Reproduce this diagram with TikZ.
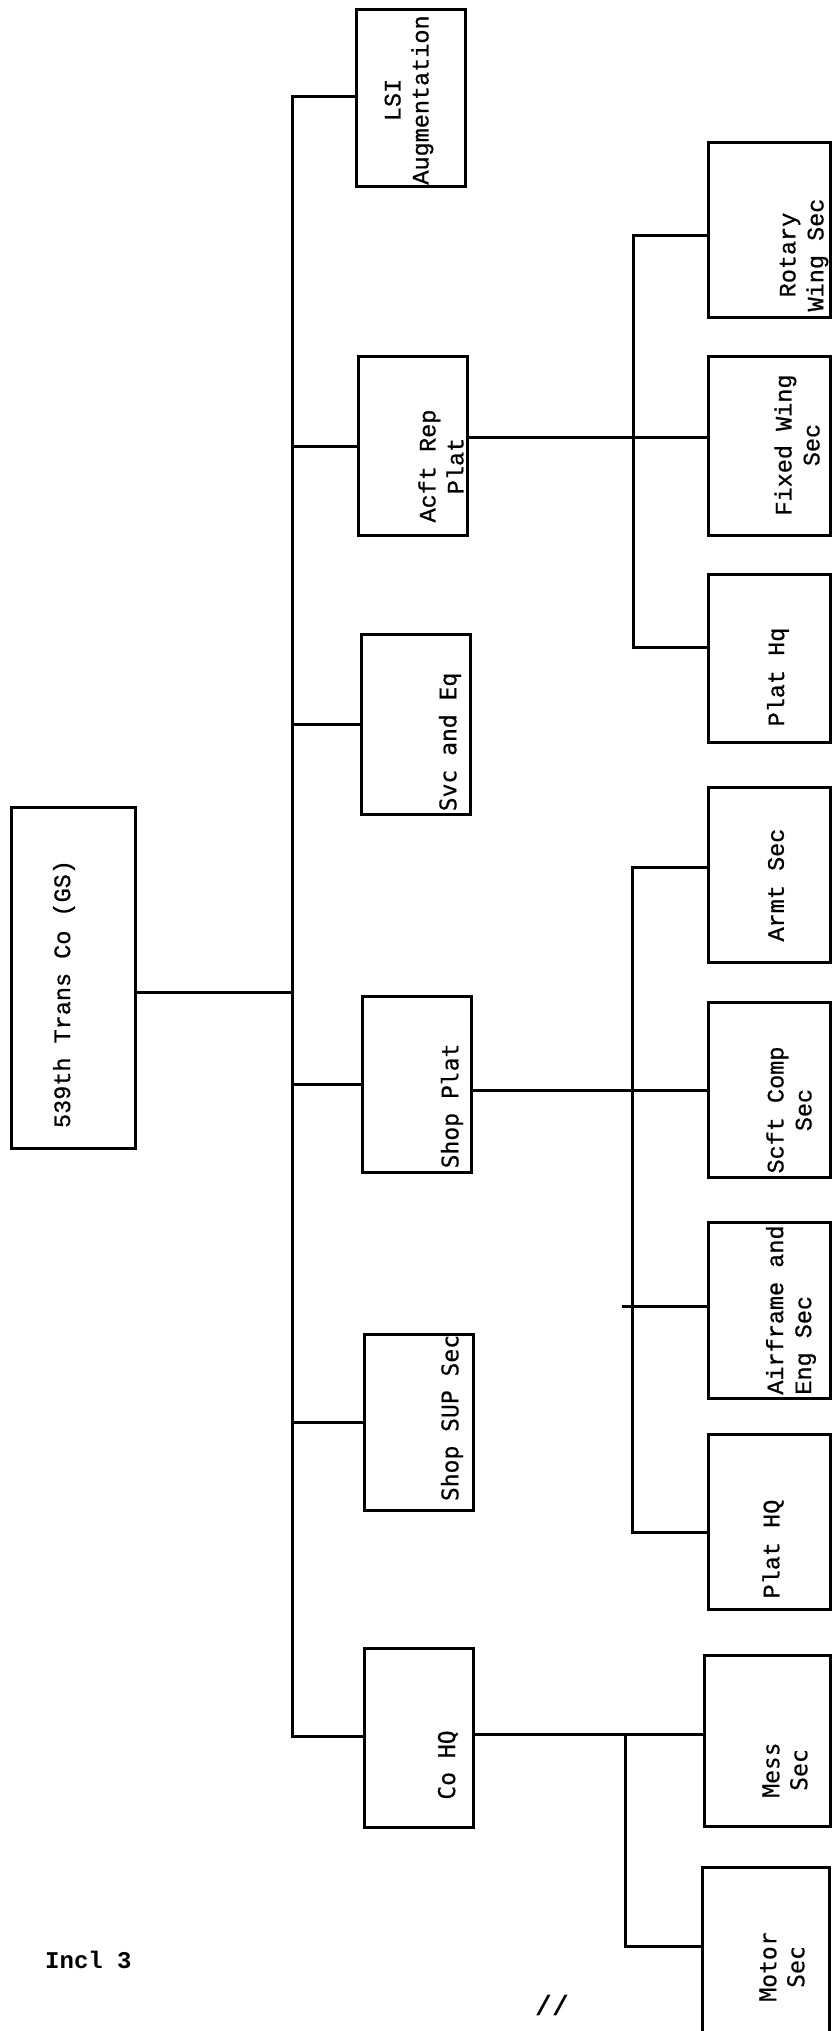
\documentclass[tikz,border=0pt]{standalone}
\usepackage{fontspec}
\setmonofont{Liberation Mono}
\newfontfamily\typewr{Liberation Mono}[FakeBold=0.8]
\newfontfamily\gothic{DejaVu Sans Mono}[FakeBold=0.4]
\newcommand\orgtt{\typewr\fontsize{23.5}{28}\selectfont}
\newcommand\orgsf{\gothic\fontsize{23}{28}\selectfont}
\tikzset{
 box/.style={draw,line width=3pt,inner sep=0pt},
 unit/.style={box,minimum width=109pt,minimum height=176pt},
 sec/.style={box,minimum width=122pt,minimum height=175pt},
 link/.style={line width=3pt},
 lbl/.style={rotate=90,align=center,inner sep=0pt,font=\orgtt},
 glbl/.style={rotate=90,align=center,inner sep=0pt,font=\orgsf}
}
\begin{document}
\begin{tikzpicture}[x=1pt,y=-1pt]
\useasboundingbox (0,0) rectangle (833,2031);
% company
\node[box,minimum width=124pt,minimum height=341pt] (top) at (73,978) {};
% platoons and sections
\node[unit] (lsi) at (411,98) {};
\node[unit,minimum height=179pt] (acft) at (413,446) {};
\node[unit,minimum height=180pt] (svc) at (416,724) {};
\node[unit] (shop) at (417,1084) {};
\node[unit] (sup) at (419,1422) {};
\node[unit,minimum height=179pt] (cohq) at (419,1738) {};
% sections
\node[sec] (rotary) at (769,230) {};
\node[sec,minimum height=179pt] (fixed) at (769,446) {};
\node[sec,minimum height=168pt] (plathqA) at (769,658) {};
\node[sec] (armt) at (769,875) {};
\node[sec] (scft) at (769,1090) {};
\node[sec,minimum height=176pt] (airfr) at (769,1310) {};
\node[sec] (plathqB) at (769,1522) {};
\node[sec,minimum width=126pt,minimum height=171pt] (mess) at (767,1741) {};
\node[sec,minimum width=127pt,minimum height=200pt] (motor) at (766,1967) {};
% texts
\node[lbl] (topT) at (64,994) {539th Trans Co (GS)};
\node[lbl] (lsiT) at (409,100) {LSI\\Augmentation};
\node[lbl] (acftT) at (441,466) {Acft Rep\\Plat};
\node[glbl] (svcT) at (450,742) {Svc and Eq};
\node[glbl] (shopT) at (452,1106) {Shop Plat};
\node[glbl] (supT) at (452,1418) {Shop SUP Sec};
\node[glbl] (cohqT) at (448,1765) {Co HQ};
\node[lbl] (rotaryT) at (804,255) {Rotary\\Wing Sec};
\node[lbl] (fixedT) at (797,445) {Fixed Wing\\Sec};
\node[lbl] (plathqAT) at (778,677) {Plat Hq};
\node[lbl] (armtT) at (776,885) {Armt Sec};
\node[lbl] (scftT) at (789,1110) {Scft Comp\\Sec};
\node[lbl,align=left] (airfrT) at (791,1310) {Airframe and\\Eng Sec};
\node[lbl] (plathqBT) at (773,1549) {Plat HQ};
\node[glbl] (messT) at (785,1770) {Mess\\Sec};
\node[glbl] (motorT) at (782,1967) {Motor\\Sec};
\node[anchor=base west,inner sep=0pt,font=\ttfamily\bfseries\fontsize{24}{28}\selectfont] (incl) at (45,1968) {Incl 3};
\node[inner sep=0pt,font=\ttfamily\bfseries\fontsize{28}{30}\selectfont] (pg) at (552,2005) {//};
% main trunk
\coordinate (tTop) at (292,97);
\coordinate (tMid) at (292,992);
\coordinate (tBot) at (292,1736);
\draw[link] (lsi.west |- tTop) -- (tTop) -- (tBot) -- (cohq.west |- tBot);
\draw[link] (top.east |- tMid) -- (tMid);
\foreach \n in {acft,svc,shop,sup}
  \draw[link] (\n.west) -- (\n.west -| tTop);
% aircraft repair platoon
\coordinate (aTop) at (633,235);
\coordinate (aMid) at (633,437);
\coordinate (aBot) at (633,647);
\draw[link] (rotary.west |- aTop) -- (aTop) -- (aBot) -- (plathqA.west |- aBot);
\draw[link] (acft.east |- aMid) -- (fixed.west |- aMid);
% shop platoon
\coordinate (sTop) at (632,867);
\coordinate (sMid) at (632,1090);
\coordinate (sAir) at (622,1306);
\coordinate (sBot) at (632,1532);
\draw[link] (armt.west |- sTop) -- (sTop) -- (sBot) -- (plathqB.west |- sBot);
\draw[link] (shop.east |- sMid) -- (scft.west |- sMid);
\draw[link] (sAir) -- (airfr.west |- sAir);
% company hq
\coordinate (cMid) at (625,1734);
\coordinate (cBot) at (625,1946);
\draw[link] (cohq.east |- cMid) -- (mess.west |- cMid);
\draw[link] (cMid) -- (cBot) -- (motor.west |- cBot);
\end{tikzpicture}
\end{document}
